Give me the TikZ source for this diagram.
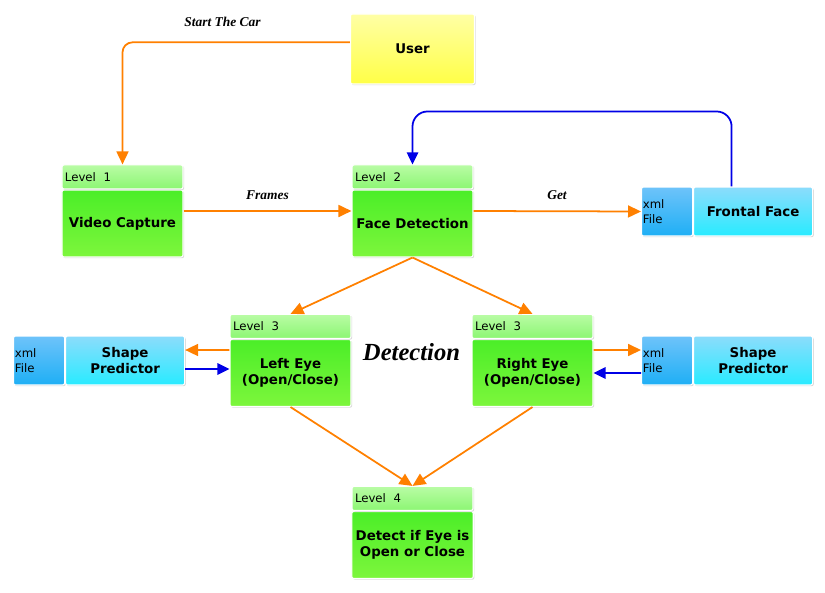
\documentclass[tikz,border=0pt]{standalone}
\usepackage{fontspec}
\setmainfont{DejaVu Sans}
\newfontfamily\lblfont{Liberation Serif}
\usetikzlibrary{calc,positioning,arrows.meta,shadows}

\definecolor{orng}{RGB}{255,128,0}
\definecolor{blu}{RGB}{0,0,230}
\definecolor{headtop}{RGB}{185,252,165}
\definecolor{headbot}{RGB}{140,246,115}
\definecolor{bodytop}{RGB}{75,238,40}
\definecolor{bodybot}{RGB}{125,246,60}
\definecolor{xmltop}{RGB}{110,195,250}
\definecolor{xmlbot}{RGB}{30,175,245}
\definecolor{nametop}{RGB}{140,220,252}
\definecolor{namebot}{RGB}{40,235,255}
\definecolor{usrtop}{RGB}{255,255,165}
\definecolor{usrbot}{RGB}{255,255,70}

\begin{document}
\begin{tikzpicture}[x=0.03cm, y=-0.03cm,
  font=\fontsize{11.4}{13.6}\selectfont,
  boxbase/.style={rectangle, draw=white, line width=0.9pt, rounded corners=0.6mm,
    drop shadow={opacity=0.3, shadow xshift=0.35mm, shadow yshift=-0.35mm}},
  lvlhead/.style={boxbase, anchor=south, top color=headtop, bottom color=headbot,
    minimum width=3.63cm, minimum height=0.72cm, text width=3.45cm, inner xsep=0.9mm,
    align=left, font=\fontsize{10}{12}\selectfont},
  lvlbody/.style={boxbase, top color=bodytop, bottom color=bodybot,
    minimum width=3.63cm, minimum height=2.01cm, align=center, font=\fontsize{11.4}{13.6}\selectfont\bfseries},
  xmlpart/.style={boxbase, anchor=west, top color=xmltop, bottom color=xmlbot,
    minimum width=1.53cm, minimum height=1.47cm, text width=1.45cm, inner xsep=0.4mm,
    align=left, font=\fontsize{10}{13}\selectfont},
  namepart/.style={boxbase, top color=nametop, bottom color=namebot,
    minimum width=3.57cm, minimum height=1.47cm, align=center, font=\fontsize{11.4}{13.6}\selectfont\bfseries},
  userbox/.style={boxbase, top color=usrtop, bottom color=usrbot,
    minimum width=3.72cm, minimum height=2.1cm, font=\fontsize{11.4}{13.6}\selectfont\bfseries},
  lbl/.style={font=\lblfont\bfseries\itshape\fontsize{11.5}{13}\selectfont},
  oarrow/.style={draw=orng, line width=1.5pt, -{Triangle[length=3.9mm,width=3.6mm]}},
  barrow/.style={draw=blu, line width=1.5pt, -{Triangle[length=3.6mm,width=3.4mm]}}]
\useasboundingbox (0,0) rectangle (825,592);

\coordinate (vc) at (122.5,223.5);
\coordinate (fd) at ($(vc) + (290,0)$);
\coordinate (le) at ($(fd) + (-122,149.5)$);
\coordinate (re) at ($(fd) + (120,149.5)$);
\coordinate (dt) at ($(fd) + (0,321.5)$);
\coordinate (usr) at ($(fd) + (0,-174.5)$);
\coordinate (ff) at ($(fd) + (228.5,-12)$);
\coordinate (spl) at ($(le) + (-277.5,-12.5)$);
\coordinate (spr) at ($(re) + (108.5,-12.5)$);

% boxes
\node[userbox] (user) at (usr) {User};

\node[lvlbody] (video) at (vc) {Video Capture};
\node[lvlhead] (videohead) at (video.north) {Level~~1};

\node[lvlbody] (face) at (fd) {Face Detection};
\node[lvlhead] (facehead) at (face.north) {Level~~2};

\node[lvlbody] (lefteye) at (le) {Left Eye\\(Open/Close)};
\node[lvlhead] (lefthead) at (lefteye.north) {Level~~3};

\node[lvlbody] (righteye) at (re) {Right Eye\\(Open/Close)};
\node[lvlhead] (righthead) at (righteye.north) {Level~~3};

\node[lvlbody] (detect) at (dt) {Detect if Eye is\\Open or Close};
\node[lvlhead] (detecthead) at (detect.north) {Level~~4};

\node[xmlpart] (frontalxml) at (ff) {xml\\File};
\node[namepart, right=0pt of frontalxml] (frontal) {Frontal Face};

\node[xmlpart] (shapelxml) at (spl) {xml\\File};
\node[namepart, right=0pt of shapelxml] (shapel) {Shape\\Predictor};

\node[xmlpart] (shaperxml) at (spr) {xml\\File};
\node[namepart, right=0pt of shaperxml] (shaper) {Shape\\Predictor};

% connectors
\draw[oarrow, rounded corners=3mm] ([yshift=2mm]user.west) -| (videohead.north);
\draw[oarrow] ([yshift=3.75mm]video.east) -- ([yshift=3.75mm]face.west);
\draw[oarrow] ([yshift=3.75mm]face.east) -- (frontalxml.west);
\draw[barrow, rounded corners=4.5mm] ([xshift=-6.45mm]frontal.north) -- ++(0,-75) -| (facehead.north);

\draw[oarrow] (face.south) -- (lefthead.north);
\draw[oarrow] (face.south) -- (righthead.north);

\draw[oarrow] ([yshift=6.9mm]lefteye.west) -- ([yshift=3.15mm]shapel.east);
\draw[barrow] ([yshift=-2.55mm]shapel.east) -- ([yshift=1.2mm]lefteye.west);
\draw[oarrow] ([yshift=6.9mm]righteye.east) -- ([yshift=3.15mm]shaperxml.west);
\draw[barrow] ([yshift=-3.75mm]shaperxml.west) -- (righteye.east);

\draw[oarrow] (lefteye.south) -- (detecthead.north);
\draw[oarrow] (righteye.south) -- (detecthead.north);

% labels
\node[lbl] (startlbl) at ($(usr) + (-190,-27)$) {Start The Car};
\node[lbl] (frameslbl) at ($(vc)!0.5!(fd) + (0,-28.5)$) {Frames};
\node[lbl] (getlbl) at ($(fd) + (144.5,-28.5)$) {Get};
\node[lbl, font=\lblfont\bfseries\itshape\fontsize{21}{24}\selectfont] (detlbl) at ($(le)!0.5!(re) + (0,-21)$) {Detection};

\end{tikzpicture}
\end{document}
